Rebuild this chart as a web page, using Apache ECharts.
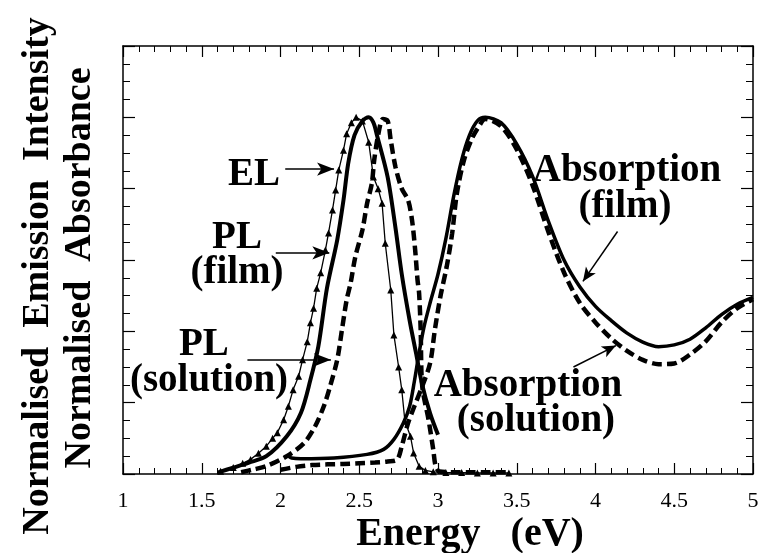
<!DOCTYPE html>
<html>
<head>
<meta charset="utf-8">
<script src="https://cdn.jsdelivr.net/npm/echarts@6/dist/echarts.min.js"></script>
<style>
  html, body { margin: 0; padding: 0; background: #fff; }
  #chart { width: 765px; height: 553px; }
</style>
</head>
<body>
<div id="chart"></div>
<script>
// energy (eV), normalised value
const elPoints = [
  [1.62, 0.008], [1.70, 0.018], [1.76, 0.030], [1.81, 0.041], [1.86, 0.058], [1.91, 0.078],
  [1.95, 0.100], [1.98, 0.116], [2.02, 0.152], [2.05, 0.190], [2.08, 0.236], [2.115, 0.274],
  [2.14, 0.320], [2.17, 0.371], [2.19, 0.424], [2.21, 0.465], [2.23, 0.521], [2.255, 0.564],
  [2.285, 0.628], [2.305, 0.676], [2.33, 0.740], [2.35, 0.796], [2.37, 0.852], [2.40, 0.908],
  [2.42, 0.954], [2.45, 0.985], [2.48, 1.000], [2.52, 0.990], [2.56, 0.930], [2.59, 0.833],
  [2.62, 0.800], [2.645, 0.759], [2.665, 0.647], [2.70, 0.516], [2.72, 0.390], [2.75, 0.300],
  [2.77, 0.236], [2.79, 0.148], [2.825, 0.106], [2.845, 0.059], [2.88, 0.022], [2.92, 0.010],
  [2.97, 0.006], [3.05, 0.004], [3.15, 0.004], [3.25, 0.003], [3.35, 0.003], [3.45, 0.003]
];
const plFilmPoints = [
  [1.60, 0.004], [1.70, 0.018], [1.80, 0.032], [1.91, 0.050], [2.04, 0.106], [2.13, 0.172],
  [2.19, 0.264], [2.24, 0.357], [2.295, 0.521], [2.36, 0.656], [2.40, 0.768], [2.43, 0.871],
  [2.47, 0.950], [2.52, 0.990], [2.56, 1.000], [2.59, 0.985], [2.61, 0.954], [2.68, 0.833],
  [2.73, 0.690], [2.77, 0.560], [2.82, 0.430], [2.86, 0.340], [2.90, 0.250], [2.95, 0.170],
  [3.00, 0.110]
];
const plSolutionPoints = [
  [1.75, 0.005], [1.83, 0.013], [1.91, 0.022], [2.04, 0.050], [2.15, 0.087], [2.22, 0.134],
  [2.275, 0.190], [2.315, 0.246], [2.36, 0.320], [2.39, 0.404], [2.42, 0.488], [2.445, 0.535],
  [2.475, 0.609], [2.52, 0.684], [2.55, 0.759], [2.58, 0.815], [2.595, 0.880], [2.62, 0.950],
  [2.65, 0.995], [2.68, 0.990], [2.70, 0.936], [2.73, 0.861], [2.77, 0.800], [2.81, 0.768],
  [2.835, 0.712], [2.855, 0.628], [2.87, 0.544], [2.88, 0.507], [2.89, 0.404], [2.90, 0.246],
  [2.94, 0.152], [2.97, 0.068], [2.985, 0.022], [3.01, 0.007], [3.10, 0.005], [3.20, 0.005],
  [3.30, 0.005], [3.45, 0.005]
];
const absFilmPoints = [
  [2.05, 0.050], [2.07, 0.045], [2.13, 0.043], [2.34, 0.045], [2.55, 0.055], [2.655, 0.069],
  [2.72, 0.097], [2.78, 0.143], [2.82, 0.190], [2.85, 0.260], [2.88, 0.340], [2.91, 0.410],
  [2.95, 0.480], [3.00, 0.560], [3.05, 0.660], [3.10, 0.780], [3.15, 0.880], [3.20, 0.950],
  [3.25, 0.990], [3.30, 1.000], [3.40, 0.985], [3.50, 0.925], [3.60, 0.835], [3.70, 0.710],
  [3.80, 0.600], [3.90, 0.525], [4.00, 0.470], [4.10, 0.430], [4.20, 0.395], [4.30, 0.370],
  [4.40, 0.357], [4.50, 0.362], [4.60, 0.378], [4.70, 0.410], [4.80, 0.447], [4.90, 0.476],
  [5.00, 0.495]
];
const absSolutionPoints = [
  [2.00, 0.012], [2.10, 0.020], [2.20, 0.025], [2.30, 0.027], [2.40, 0.028], [2.50, 0.030],
  [2.60, 0.032], [2.68, 0.035], [2.74, 0.040], [2.77, 0.078], [2.81, 0.143], [2.85, 0.190],
  [2.90, 0.246], [2.95, 0.311], [2.98, 0.404], [3.015, 0.497], [3.055, 0.581], [3.09, 0.675],
  [3.12, 0.787], [3.165, 0.880], [3.215, 0.940], [3.26, 0.975], [3.30, 0.995], [3.40, 0.975],
  [3.50, 0.910], [3.60, 0.810], [3.70, 0.680], [3.80, 0.565], [3.90, 0.480], [4.00, 0.425],
  [4.10, 0.380], [4.20, 0.345], [4.30, 0.320], [4.40, 0.308], [4.50, 0.310], [4.60, 0.335],
  [4.70, 0.372], [4.80, 0.425], [4.90, 0.465], [5.00, 0.490]
];

// curve labels and where they sit (data coords of the text centre)
const noteTexts = ['EL', 'PL', '(film)', 'PL', '(solution)', 'Absorption', '(film)', 'Absorption', '(solution)'];
const notePos = [
  [1.832, 0.838], [1.724, 0.662], [1.724, 0.564], [1.514, 0.362], [1.546, 0.261],
  [4.200, 0.850], [4.187, 0.749], [3.571, 0.247], [3.622, 0.149]
];

// annotation arrows, [from, to] in data coords, and head size
const arrows = [
  [[2.03, 0.855], [2.34, 0.855], [10, 17]],
  [[1.97, 0.62], [2.31, 0.62], [10, 17]],
  [[1.79, 0.32], [2.32, 0.32], [10, 17]],
  [[4.14, 0.68], [3.92, 0.54], [9, 14]],
  [[3.86, 0.30], [4.13, 0.36], [9, 14]]
];

const serif = '"Liberation Serif", "Times New Roman", serif';
const G = { left: 123, right: 12, top: 46, bottom: 79, w: 630, h: 428 };

function frameAxis(pos, isX) {
  return {
    type: 'value',
    position: pos,
    min: isX ? 1 : 0,
    max: isX ? 5 : 1.2,
    interval: isX ? 0.5 : 0.2,
    axisLine: { show: true, onZero: false, lineStyle: { color: '#000', width: 1.5 } },
    axisTick: { show: true, inside: true, length: isX ? 11 : 12, lineStyle: { color: '#000', width: 1.2 } },
    minorTick: { show: true, splitNumber: isX ? 5 : 4, length: isX ? 6 : 7, lineStyle: { color: '#000', width: 1 } },
    splitLine: { show: false },
    axisLabel: { show: false }
  };
}

function markArrow(a) {
  return [{ coord: a[0], symbol: 'none' }, { coord: a[1], symbol: 'arrow', symbolSize: a[2] }];
}

function textEl(text, x, y, size, rot) {
  return {
    type: 'text', x: x, y: y, rotation: rot || 0, silent: true,
    style: {
      text: text, font: 'bold ' + size + 'px ' + serif, fill: '#000',
      textAlign: 'center', textVerticalAlign: 'middle'
    }
  };
}

// flags switch between equivalent ways of drawing the texts, triangles and arrows
function buildOption(flags) {
  const bottom = frameAxis('bottom', true);
  bottom.axisLabel = { show: true, margin: 16, color: '#000', fontFamily: serif, fontSize: 22 };
  const left = frameAxis('left', false);
  const bold = { fontFamily: serif, fontWeight: 'bold', color: '#000' };

  const series = [
    {
      name: 'EL', type: 'line', data: elPoints,
      symbol: flags.elScatter ? 'none' : 'triangle', symbolSize: 7, showSymbol: !flags.elScatter,
      itemStyle: { color: '#000' },
      lineStyle: { color: '#000', width: 1.3 }
    },
    {
      name: 'PL (film)', type: 'line', data: plFilmPoints, smooth: 0.3, symbol: 'none',
      lineStyle: { color: '#000', width: 4 }
    },
    {
      name: 'PL (solution)', type: 'line', data: plSolutionPoints, smooth: 0.3, symbol: 'none',
      lineStyle: { color: '#000', width: 4.5, type: [10, 5] }
    },
    {
      name: 'Absorption (film)', type: 'line', data: absFilmPoints, smooth: 0.3, symbol: 'none',
      lineStyle: { color: '#000', width: 3.5 }
    },
    {
      name: 'Absorption (solution)', type: 'line', data: absSolutionPoints, smooth: 0.3, symbol: 'none',
      lineStyle: { color: '#000', width: 4.5, type: [10, 5] }
    }
  ];

  if (flags.elScatter) {
    series.push({
      type: 'scatter', data: elPoints, symbol: 'triangle', symbolSize: 7,
      itemStyle: { color: '#000' }, silent: true
    });
  }

  if (flags.noMarkLine) {
    arrows.forEach(a => series.push({
      type: 'lines', coordinateSystem: 'cartesian2d', silent: true,
      symbol: ['none', 'arrow'], symbolSize: a[2][1],
      lineStyle: { color: '#000', width: 1.5, opacity: 1 },
      data: [{ coords: [a[0], a[1]] }]
    }));
  } else {
    series[0].markLine = {
      silent: true, animation: false, label: { show: false },
      lineStyle: { color: '#000', width: 1.5, type: 'solid' },
      emphasis: { disabled: true },
      data: arrows.map(markArrow)
    };
  }

  let graphic = [];
  if (flags.noGraphic) {
    left.name = 'Normalised  Emission  Intensity\nNormalised  Absorbance';
    left.nameLocation = 'middle';
    left.nameRotate = 90;
    left.nameGap = 23;
    left.nameTextStyle = Object.assign({ fontSize: 38, lineHeight: 42 }, bold);
    bottom.name = 'Energy   (eV)';
    bottom.nameLocation = 'middle';
    bottom.nameGap = 41;
    bottom.nameTextStyle = Object.assign({ fontSize: 40, padding: [0, 0, 0, 64] }, bold);
    series.push({
      type: 'scatter', silent: true, symbolSize: 0,
      data: notePos.map((p, i) => ({ value: p, name: noteTexts[i] })),
      label: Object.assign({
        show: true, position: 'inside', formatter: '{b}', fontSize: 39,
        align: 'center', verticalAlign: 'middle'
      }, bold)
    });
  } else {
    graphic = [
      textEl('Normalised  Emission  Intensity', 38, 276, 38, Math.PI / 2),
      textEl('Normalised  Absorbance', 80, 268, 38, Math.PI / 2),
      textEl('Energy   (eV)', 470, 535, 40)
    ].concat(notePos.map((p, i) => textEl(
      noteTexts[i],
      G.left + (p[0] - 1) * G.w / 4,
      G.top + G.h - p[1] * G.h / 1.2,
      39
    )));
  }

  return {
    animation: false,
    backgroundColor: '#fff',
    grid: { left: G.left, right: G.right, top: G.top, bottom: G.bottom },
    xAxis: [bottom, frameAxis('top', true)],
    yAxis: [left, frameAxis('right', false)],
    series: series,
    graphic: graphic
  };
}

const chart = echarts.init(document.getElementById('chart'), null, { renderer: 'canvas' });

// the short frame ticks went missing in earlier renders: look for them on the canvas
function minorTicksDrawn() {
  const zr = chart.getZr();
  if (zr.refreshImmediately) zr.refreshImmediately();
  const canvas = chart.getDom().querySelector('canvas');
  if (!canvas) return true;
  const ctx = canvas.getContext('2d');
  const b = chart.convertToPixel({ gridIndex: 0 }, [1.1, 0]);
  const l = chart.convertToPixel({ gridIndex: 0 }, [1, 0.05]);
  function dark(x0, y0, x1, y1) {
    const d = ctx.getImageData(Math.round(x0), Math.round(y0), Math.round(x1 - x0) + 1, Math.round(y1 - y0) + 1).data;
    for (let i = 0; i < d.length; i += 4) {
      if (d[i + 3] > 0 && d[i] < 140) return true;
    }
    return false;
  }
  try {
    return dark(b[0] - 1, b[1] - 4, b[0] + 1, b[1] - 2) || dark(l[0] + 2, l[1] - 1, l[0] + 4, l[1] + 1);
  } catch (e) {
    return true;
  }
}

const tries = [
  {},
  { noGraphic: true },
  { elScatter: true },
  { noMarkLine: true },
  { noGraphic: true, elScatter: true, noMarkLine: true }
];
let chosen = null;
for (const f of tries) {
  chart.setOption(buildOption(f), true);
  if (minorTicksDrawn()) { chosen = f; break; }
}
if (!chosen) chart.setOption(buildOption({}), true);
</script>
</body>
</html>
